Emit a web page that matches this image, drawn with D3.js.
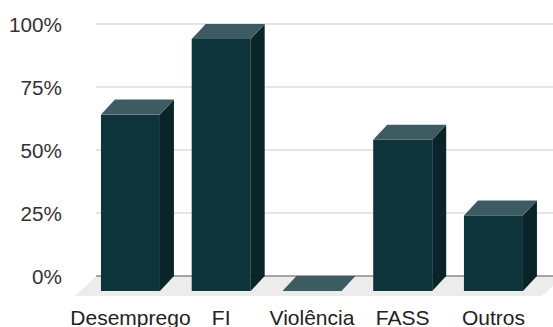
<!DOCTYPE html>
<html><head><meta charset="utf-8">
<script src="https://cdn.jsdelivr.net/npm/d3@7"></script>
<style>html,body{margin:0;padding:0;background:#fff;}svg{display:block;}</style>
</head><body>
<svg id="c" width="553" height="327"></svg>
<script>
const categories = ["Desemprego", "FI", "Violência", "FASS", "Outros"];
const values = [0.70, 1.00, 0.00, 0.60, 0.30];
const tickValues = [0, 0.25, 0.5, 0.75, 1];
const tickLabels = ["0%", "25%", "50%", "75%", "100%"];

const W = 553, H = 327;
const svg = d3.select("#c");
const depthX = 14, depthY = 15;

// front-face value scale
const y = d3.scaleLinear().domain([0, 1]).range([291, 39]);
const x = d3.scaleBand().domain(categories).range([69.2, 554.7]).paddingInner(0.35).paddingOuter(0.35);

const font = "'Liberation Sans', Arial, sans-serif";

// back-wall gridlines
const gx0 = 96, gx1 = 553;
svg.append("g").selectAll("line").data(tickValues).join("line")
  .attr("x1", gx0).attr("x2", gx1)
  .attr("y1", d => y(d) - depthY).attr("y2", d => y(d) - depthY)
  .attr("stroke", d => d === 0 ? "#8a8a8a" : "#dcdcdc")
  .attr("stroke-width", 1.3);

// floor
const fb = y(0) - depthY;
const floorPts = [[gx0, fb], [gx1 + 10, fb], [gx1 + 10 - 21, fb + 20], [gx0 - 21, fb + 20]];
svg.insert("path", "g").attr("d", d3.line()(floorPts)).attr("fill", "#ececec");

// y tick labels
svg.append("g").selectAll("text").data(tickValues).join("text")
  .attr("x", 62).attr("y", d => y(d) - depthY + 7.5)
  .attr("text-anchor", "end")
  .attr("font-family", font).attr("font-size", 20.7).attr("fill", "#333")
  .text((d, i) => tickLabels[i]);

// bars
const data = categories.map((c, i) => ({c, v: values[i]}));
const bars = svg.append("g").selectAll("g").data(data).join("g");
bars.each(function(d) {
  const g = d3.select(this);
  const x0 = x(d.c), x1 = x0 + x.bandwidth();
  const yt = y(d.v), yb = y(0);
  if (d.v > 0) {
    // side
    g.append("path").attr("d", d3.line()([[x1, yt], [x1 + depthX, yt - depthY], [x1 + depthX, yb - depthY], [x1, yb]]))
      .attr("fill", "#0a2529");
    // front
    g.append("rect").attr("x", x0).attr("y", yt).attr("width", x1 - x0).attr("height", yb - yt)
      .attr("fill", "#0e343b");
  }
  // top
  g.append("path").attr("d", d3.line()([[x0, yt], [x0 + depthX, yt - depthY], [x1 + depthX, yt - depthY], [x1, yt]]))
    .attr("fill", "#3d5c61");
});

// category labels
svg.append("g").selectAll("text").data(categories).join("text")
  .attr("x", d => x(d) + x.bandwidth() / 2).attr("y", 325)
  .attr("text-anchor", "middle")
  .attr("font-family", font).attr("font-size", 21).attr("fill", "#222")
  .text(d => d);
</script>
</body></html>
